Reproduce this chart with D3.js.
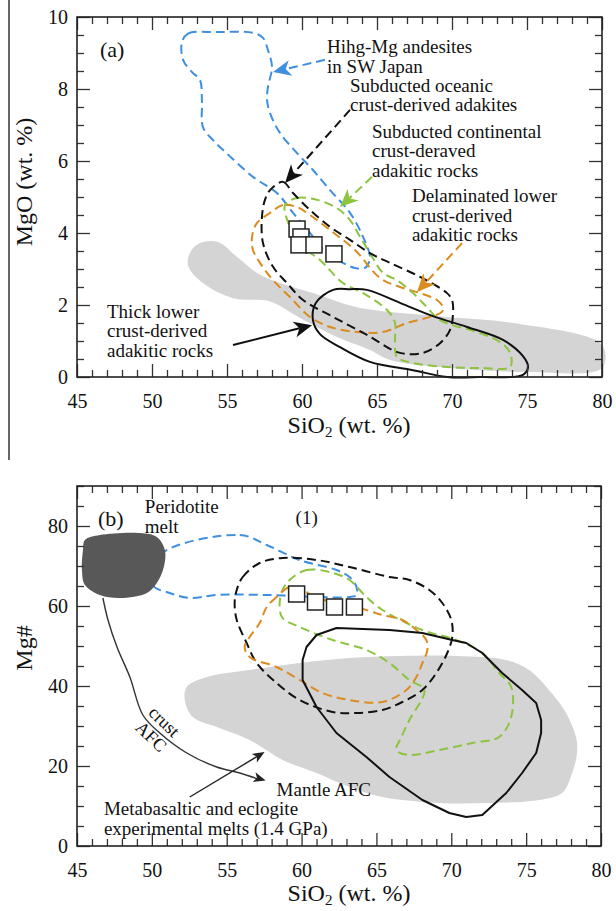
<!DOCTYPE html>
<html>
<head>
<meta charset="utf-8">
<script src="https://cdn.jsdelivr.net/npm/d3@7"></script>
<style>
body{margin:0;background:#fff}
svg{display:block}
</style>
</head>
<body>
<svg id="chart"></svg>
<script>
// ---------- data (SiO2 wt.%, MgO wt.% / Mg#) ----------
var siTicks = [45, 50, 55, 60, 65, 70, 75, 80];
var mgoTicks = [0, 2, 4, 6, 8, 10];
var mgnTicks = [0, 20, 40, 60, 80];

// panel (a) fields
var expA = [[53.2,3.72],[54.4,3.75],[55.67,3.33],[57.0,2.89],[58.53,2.61],[60.73,2.33],[63.67,1.94],[69.67,1.67],[74.07,1.5],[80,0.89],
            [80,0.25],[75.2,0.14],[69.87,0.25],[65.87,0.47],[64.53,0.75],[62.33,1.11],[59.87,1.64],[57.87,2.1],[55.4,2.19],[53.4,2.61],[52.4,3.1],[52.6,3.5]];
var hmaA = [[52.0,9.3],[52.4,9.54],[54.33,9.58],[56.73,9.56],[57.4,9.42],[57.73,9.08],[58.0,8.61],[57.73,8.06],[57.67,7.69],[57.87,7.33],[58.53,6.78],
            [59.67,6.22],[60.73,5.75],[61.87,5.19],[63.2,4.56],[64.07,3.89],[64.53,3.31],[64.2,3.03],[63.53,3.03],[62.73,3.17],[61.67,3.44],[60.53,4.0],
            [59.4,4.56],[58.33,5.11],[56.73,5.56],[54.73,6.31],[54.07,6.58],[53.4,6.94],[53.33,7.69],[53.2,8.25],[52.67,8.47],[52.07,8.81]];
var oceanicA = [[57.87,5.19],[58.73,5.42],[59.4,5.11],[60.53,4.64],[61.87,4.17],[63.2,3.81],[64.53,3.44],[65.87,3.17],[67.87,2.78],[69.67,2.33],[70.0,2.14],
                [70.07,1.78],[69.87,1.31],[69.2,0.94],[68.07,0.67],[66.53,0.67],[64.33,1.17],[62.07,1.67],[60.07,2.14],[59.0,2.61],[58.07,3.06],[57.4,3.72],[57.33,4.44],[57.53,4.92]];
var delamA = [[59.67,4.72],[58.73,4.78],[57.87,4.56],[57.0,4.28],[56.67,3.89],[56.73,3.53],[57.2,3.17],[58.07,2.69],[59.2,2.22],[60.53,1.67],[61.87,1.39],
              [63.67,1.25],[65.4,1.25],[67.0,1.5],[68.53,1.67],[69.33,1.81],[69.4,1.94],[69.0,2.14],[67.87,2.33],[66.53,2.5],[65.2,2.75],[63.53,3.53],[61.87,4.08],[60.53,4.5]];
var contA = [[58.87,4.78],[59.67,4.97],[61.0,4.92],[62.33,4.69],[63.2,4.36],[63.87,3.89],[64.53,3.44],[65.4,2.89],[66.33,2.69],[67.4,2.33],[68.33,1.94],
             [69.2,1.58],[71.87,1.22],[73.2,0.97],[73.87,0.67],[73.87,0.28],[71.87,0.25],[69.67,0.28],[67.4,0.39],[66.33,0.56],[66.2,1.03],[66.2,1.5],
             [65.67,1.86],[64.07,2.33],[62.73,2.61],[61.2,3.25],[60.07,3.61],[59.2,4.17]];
var thickA = [[62.07,2.42],[63.2,2.44],[64.33,2.42],[66.53,2.06],[68.73,1.69],[71.0,1.39],[73.4,1.03],[74.73,0.58],[75.07,0.28],[74.73,0.06],[71.87,0.0],
              [69.67,0.0],[67.4,0.19],[64.53,0.42],[62.53,0.83],[61.2,1.19],[60.73,1.58],[60.93,2.06]];
var sampleSiA = [59.67, 59.93, 59.8, 60.8, 62.13];
var sampleMgoA = [4.11, 3.89, 3.67, 3.67, 3.42];

// panel (b) fields
var expB = [[52.33,39.75],[53.67,42.25],[56.53,44],[59.87,45.75],[63.2,47],[66.53,47.5],[70.33,47.5],[73.67,46.5],[75.2,44],[76.53,39],[77.67,33.25],
            [78.33,27.25],[78.4,23.25],[78.07,18.25],[77.4,13.25],[75.87,11.5],[72.53,10.75],[69.2,10.75],[65.4,12.25],[63.2,14.75],[61.0,18.25],
            [58.73,21.5],[56.53,26.5],[54.33,29.75],[52.73,32.25],[52.2,36.5]];
var peridotiteB = [[45.53,76.5],[46.53,77.75],[49.2,78.25],[50.33,77.25],[50.87,74],[50.8,69.75],[50.33,65.75],[49.67,63.25],[47.87,62],[46.53,62.75],
                   [45.53,65.25],[45.33,69],[45.4,74]];
var hmaB = [[50.53,72.75],[55.87,77.75],[57.67,75.25],[59.87,71.5],[62.33,69],[63.2,67.25],[63.67,64.75],[63.67,62.75],[63.2,62.25],[61.0,62.25],
            [57.67,62.75],[54.33,62.75],[52.53,62],[51.2,63.25],[50.07,65.25]];
var oceanicB = [[55.67,64],[56.07,67.25],[57.2,70.75],[58.73,72],[61.0,71.5],[63.2,69.75],[65.87,67.25],[67.2,66.5],[68.53,64],[69.4,60.75],[70.0,56.5],
                [70.07,52.25],[69.73,48.25],[69.0,43.25],[68.07,39],[66.73,36],[65.4,34],[63.67,33.25],[62.07,33.5],[59.87,36.5],[58.33,40.75],[57.0,45.75],
                [56.33,50.75],[55.67,56.5],[55.53,60.75]];
var delamB = [[59.2,64.75],[58.33,62.25],[57.67,59.75],[57.2,55.75],[56.53,52.25],[56.2,49.75],[56.53,47.25],[58.33,44.75],[59.87,41.5],[61.4,38.25],
              [63.2,36.5],[65.4,36],[67.0,39],[67.67,42.25],[68.07,45.75],[68.4,49],[68.33,51.5],[67.67,54],[66.73,56.5],[65.4,57.75],[63.2,60.25],[61.0,62],[59.87,64.5]];
var contB = [[59.2,66.5],[60.33,69],[61.87,68.5],[63.2,66.5],[64.33,62.25],[65.4,59],[68.07,54],[70.33,51.5],[72.07,48.25],[73.2,43.25],[74.0,39.75],
             [74.0,32.25],[73.2,27.25],[71.4,25.75],[69.2,24],[67.2,22.75],[66.33,24],[66.67,27.25],[67.2,31.5],[68.2,39],[67.2,41.5],[65.87,45.75],
             [64.33,49],[62.07,51.5],[59.87,54.75],[58.73,57],[58.53,60.25],[58.73,64]];
var thickB = [[60.07,46.5],[60.33,49.75],[61.0,52.75],[62.33,54.5],[65.87,54],[68.07,53.25],[70.07,51.5],[71.0,50.75],[72.07,48.25],[73.4,43.25],
              [74.73,39],[75.67,35.75],[76.0,31.5],[76.0,28.25],[75.67,23.25],[74.73,18.25],[73.67,13.25],[72.07,7.75],[71.0,7.25],[69.87,8.25],
              [68.07,11.5],[65.87,17.25],[64.33,22.25],[62.33,28.25],[61.0,34.75],[60.07,41.5]];
var sampleSiB = [59.67, 60.93, 62.2, 63.53];
var sampleMgnB = [63, 61, 59.75, 59.75];
var afcPath = [[46.73,62],[47.07,56.5],[47.67,49.75],[48.53,42.25],[49.4,32.75],[50.53,28.25],[52.33,23.25],[54.33,19.75],[55.87,18.25],[57.6,16.4]];

// labels and pointers
var labelsA = [
  {x:61.67, y:9.0,  lines:["Hihg-Mg andesites","in SW Japan"]},
  {x:63.2,  y:7.92, lines:["Subducted oceanic","crust-derived adakites"]},
  {x:64.67, y:6.64, lines:["Subducted continental","crust-deraved","adakitic rocks"]},
  {x:67.33, y:4.86, lines:["Delaminated lower","crust-derived","adakitic rocks"]},
  {x:47.0,  y:1.64, lines:["Thick lower","crust-derived","adakitic rocks"]}
];
var pointersA = [
  {from:[61.53,8.81], to:[58.07,8.47], color:"#3f8fe0", dash:true},
  {from:[63.2,7.42],  to:[58.87,5.39], color:"#111111", dash:true},
  {from:[64.67,5.56], to:[62.53,4.72], color:"#8cc43f", dash:true},
  {from:[70.67,3.72], to:[67.67,2.36], color:"#dc8b1e", dash:true},
  {from:[55.4,0.89],  to:[60.67,1.44], color:"#111111", dash:false}
];
var labelsB = [
  {x:49.53, y:83.25, lines:["Peridotite","melt"]},
  {x:59.6,  y:80.5,  lines:["(1)"]},
  {x:58.33, y:12.5,  lines:["Mantle AFC"]},
  {x:46.8,  y:7.75,  lines:["Metabasaltic and eclogite","experimental melts (1.4 GPa)"]}
];
var afcLabels = [
  {x:50.55, y:30.0,  text:"crust"},
  {x:49.67, y:26.25, text:"AFC"}
];
var metaArrow = {from:[52.53,12.25], to:[57.53,23.5]};

// ---------- drawing ----------
var FONT = "'Liberation Serif','Times New Roman',Times,serif";
var svg = d3.select("#chart").attr("width", 616).attr("height", 911);

var xA = d3.scaleLinear().domain([45, 80]).range([77, 602]);
var yA = d3.scaleLinear().domain([0, 10]).range([377, 17]);
var xB = d3.scaleLinear().domain([45, 80]).range([77, 601]);
var yB = d3.scaleLinear().domain([0, 90]).range([846, 486]);

// stray page rule at the left of the top figure
svg.append("line").attr("x1", 9).attr("x2", 9).attr("y1", 0).attr("y2", 460)
  .attr("stroke", "#333").attr("stroke-width", 1.5);

var styleAxis = function(g, labels)
{
  g.select(".domain").remove();
  g.selectAll(".tick line").attr("stroke", "#333").attr("stroke-width", 1.3);
  g.attr("font-family", FONT).attr("font-size", 20);
  g.selectAll(".tick text").attr("fill", "#111");
  if (!labels) g.selectAll(".tick text").remove();
}

var drawAxes = function(x, y, yMajor, yStep)
{
  var left = x.range()[0], right = x.range()[1];
  var bottom = y.range()[0], top = y.range()[1];
  var ymax = y.domain()[1];
  var xMinor = d3.range(45, 80.01, 1).filter(function(v) { return siTicks.indexOf(v) < 0; });
  var yMinor = d3.range(0, ymax + 0.001, yStep).filter(function(v) {
    return ymax === 10 ? yMajor.indexOf(v) < 0 : v % 20 !== 0;
  });

  var g;
  g = svg.append("g").attr("transform", "translate(0," + bottom + ")")
    .call(d3.axisBottom(x).tickValues(siTicks).tickSizeInner(-13).tickSizeOuter(0).tickPadding(17));
  styleAxis(g, true);
  g = svg.append("g").attr("transform", "translate(0," + bottom + ")")
    .call(d3.axisBottom(x).tickValues(xMinor).tickSizeInner(-7).tickSizeOuter(0));
  styleAxis(g, false);
  g = svg.append("g").attr("transform", "translate(0," + top + ")")
    .call(d3.axisTop(x).tickValues(siTicks).tickSizeInner(-13).tickSizeOuter(0));
  styleAxis(g, false);
  g = svg.append("g").attr("transform", "translate(0," + top + ")")
    .call(d3.axisTop(x).tickValues(xMinor).tickSizeInner(-7).tickSizeOuter(0));
  styleAxis(g, false);

  g = svg.append("g").attr("transform", "translate(" + left + ",0)")
    .call(d3.axisLeft(y).tickValues(yMajor).tickSizeInner(-13).tickSizeOuter(0).tickPadding(9));
  styleAxis(g, true);
  g = svg.append("g").attr("transform", "translate(" + left + ",0)")
    .call(d3.axisLeft(y).tickValues(yMinor).tickSizeInner(-7).tickSizeOuter(0));
  styleAxis(g, false);
  g = svg.append("g").attr("transform", "translate(" + right + ",0)")
    .call(d3.axisRight(y).tickValues(yMajor).tickSizeInner(-13).tickSizeOuter(0));
  styleAxis(g, false);
  g = svg.append("g").attr("transform", "translate(" + right + ",0)")
    .call(d3.axisRight(y).tickValues(yMinor).tickSizeInner(-7).tickSizeOuter(0));
  styleAxis(g, false);

  svg.append("rect").attr("x", left).attr("y", top)
    .attr("width", right - left).attr("height", bottom - top)
    .attr("fill", "none").attr("stroke", "#222").attr("stroke-width", 1.6);
}

var field = function(x, y, pts, style)
{
  var line = d3.line()
    .x(function(d) { return x(d[0]); })
    .y(function(d) { return y(d[1]); })
    .curve(style.linear ? d3.curveLinearClosed : d3.curveCatmullRomClosed.alpha(0.5));
  return svg.append("path").datum(pts)
    .attr("d", line)
    .attr("fill", style.fill || "none")
    .attr("stroke", style.stroke || "none")
    .attr("stroke-width", style.width || 2)
    .attr("stroke-dasharray", style.dash ? "9,5" : null)
    .attr("stroke-linejoin", "round");
}

var arrowHead = function(p0, p1, color, len, hw, notch)
{
  var dx = p1[0] - p0[0], dy = p1[1] - p0[1];
  var L = Math.sqrt(dx * dx + dy * dy), ux = dx / L, uy = dy / L;
  var nx = -uy, ny = ux;
  var bx = p1[0] - ux * len, by = p1[1] - uy * len;
  var d = "M" + p1[0] + "," + p1[1] +
    "L" + (bx + nx * hw) + "," + (by + ny * hw) +
    "L" + (p1[0] - ux * (len - notch)) + "," + (p1[1] - uy * (len - notch)) +
    "L" + (bx - nx * hw) + "," + (by - ny * hw) + "Z";
  svg.append("path").attr("d", d).attr("fill", color);
  return [p1[0] - ux * (len - notch), p1[1] - uy * (len - notch)];
}

var pointer = function(x, y, p, width, len, hw, notch)
{
  var a = [x(p.from[0]), y(p.from[1])], b = [x(p.to[0]), y(p.to[1])];
  var end = arrowHead(a, b, p.color, len, hw, notch);
  svg.append("line")
    .attr("x1", a[0]).attr("y1", a[1]).attr("x2", end[0]).attr("y2", end[1])
    .attr("stroke", p.color).attr("stroke-width", width)
    .attr("stroke-dasharray", p.dash ? "9,5" : null);
}

var textBlock = function(x, y, lab, size, lead)
{
  var t = svg.append("text")
    .attr("x", x(lab.x)).attr("y", y(lab.y))
    .attr("font-family", FONT).attr("font-size", size).attr("fill", "#111");
  lab.lines.forEach(function(s, i) {
    t.append("tspan").attr("x", x(lab.x)).attr("dy", i === 0 ? 0 : lead).text(s);
  });
}

var siTitle = function(cx, baseline)
{
  var t = svg.append("text").attr("x", cx).attr("y", baseline)
    .attr("text-anchor", "middle").attr("font-family", FONT).attr("font-size", 24).attr("fill", "#111");
  t.append("tspan").text("SiO");
  t.append("tspan").attr("font-size", 15).attr("dy", 4).text("2");
  t.append("tspan").attr("dy", -4).text(" (wt. %)");
}

var yTitle = function(cx, cy, s)
{
  svg.append("text").attr("transform", "translate(" + cx + "," + cy + ") rotate(-90)")
    .attr("text-anchor", "middle").attr("font-family", FONT).attr("font-size", 24)
    .attr("fill", "#111").text(s);
}

var squares = function(x, y, si, v)
{
  svg.append("g").selectAll("rect").data(si).enter().append("rect")
    .attr("x", function(d) { return x(d) - 8; })
    .attr("y", function(d, i) { return y(v[i]) - 8; })
    .attr("width", 16).attr("height", 16)
    .attr("fill", "#fff").attr("stroke", "#222").attr("stroke-width", 1.5);
}

// ----- panel (a) -----
field(xA, yA, expA, {fill: "#d4d4d4"});
field(xA, yA, hmaA, {stroke: "#3f8fe0", dash: true});
field(xA, yA, delamA, {stroke: "#dc8b1e", dash: true});
field(xA, yA, contA, {stroke: "#8cc43f", dash: true});
field(xA, yA, oceanicA, {stroke: "#111", dash: true});
field(xA, yA, thickA, {stroke: "#111"});
squares(xA, yA, sampleSiA, sampleMgoA);
pointersA.forEach(function(p) { pointer(xA, yA, p, 2, 18, 8, 5); });
labelsA.forEach(function(l) { textBlock(xA, yA, l, 19, 19.5); });
svg.append("text").attr("x", 100).attr("y", 57).attr("font-family", FONT)
  .attr("font-size", 22).attr("fill", "#111").text("(a)");
drawAxes(xA, yA, mgoTicks, 0.5);
siTitle(349, 433);
yTitle(32, 182, "MgO (wt. %)");

// ----- panel (b) -----
field(xB, yB, expB, {fill: "#d4d4d4"});
field(xB, yB, hmaB, {stroke: "#3f8fe0", dash: true});
field(xB, yB, oceanicB, {stroke: "#111", dash: true});
field(xB, yB, contB, {stroke: "#8cc43f", dash: true});
field(xB, yB, delamB, {stroke: "#dc8b1e", dash: true});
field(xB, yB, thickB, {stroke: "#111", linear: true});
field(xB, yB, peridotiteB, {fill: "#585858"});
squares(xB, yB, sampleSiB, sampleMgnB);

var afcLine = d3.line()
  .x(function(d) { return xB(d[0]); })
  .y(function(d) { return yB(d[1]); })
  .curve(d3.curveCatmullRom.alpha(0.5));
var n = afcPath.length;
svg.append("path").datum(afcPath.slice(0, n - 1).concat([[afcPath[n - 1][0] - 0.4, afcPath[n - 1][1] + 0.2]]))
  .attr("d", afcLine).attr("fill", "none").attr("stroke", "#333").attr("stroke-width", 1.4);
arrowHead([xB(afcPath[n - 2][0]), yB(afcPath[n - 2][1])], [xB(afcPath[n - 1][0]), yB(afcPath[n - 1][1])], "#222", 12, 5, 3);
pointer(xB, yB, {from: metaArrow.from, to: metaArrow.to, color: "#222", dash: false}, 1.4, 12, 5, 3);

labelsB.forEach(function(l) { textBlock(xB, yB, l, 19, 19.5); });
svg.append("text").attr("x", 98).attr("y", 526).attr("font-family", FONT)
  .attr("font-size", 22).attr("fill", "#111").text("(b)");
afcLabels.forEach(function(l) {
  svg.append("text").attr("transform", "translate(" + xB(l.x) + "," + yB(l.y) + ") rotate(44)")
    .attr("text-anchor", "middle").attr("font-family", FONT).attr("font-size", 18)
    .attr("fill", "#111").text(l.text);
});
drawAxes(xB, yB, mgnTicks, 5);
siTitle(349, 901);
yTitle(32, 648, "Mg#");
</script>
</body>
</html>
